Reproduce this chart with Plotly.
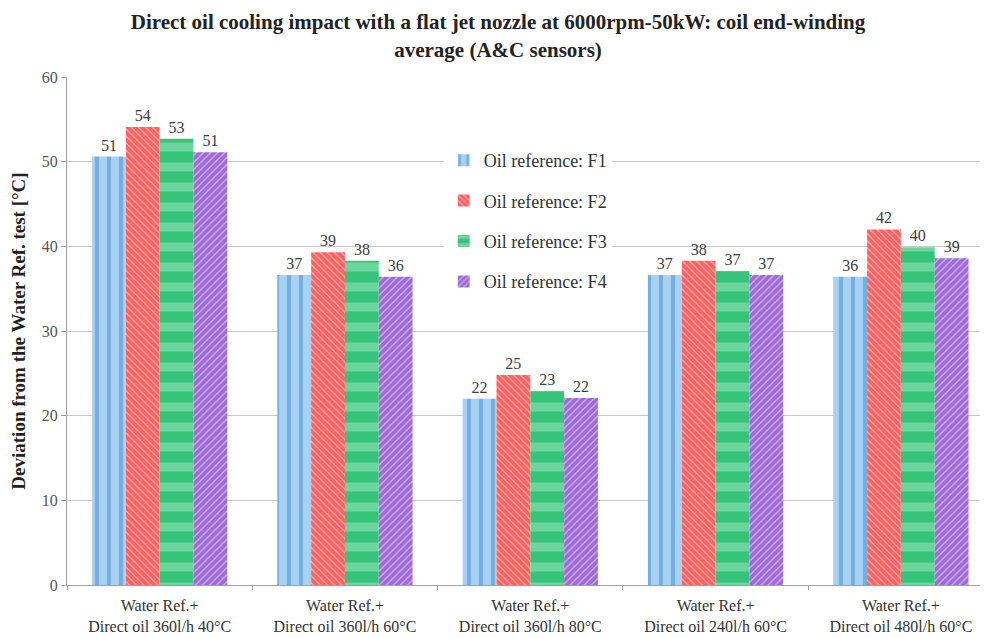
import plotly.graph_objects as go

categories = [
    "Water Ref.+<br>Direct oil 360l/h 40°C",
    "Water Ref.+<br>Direct oil 360l/h 60°C",
    "Water Ref.+<br>Direct oil 360l/h 80°C",
    "Water Ref.+<br>Direct oil 240l/h 60°C",
    "Water Ref.+<br>Direct oil 480l/h 60°C",
]
f1 = [50.6, 36.6, 22.0, 36.6, 36.4]
f2 = [54.1, 39.3, 24.8, 38.3, 42.0]
f3 = [52.7, 38.3, 22.9, 37.1, 39.9]
f4 = [51.1, 36.4, 22.1, 36.6, 38.6]

serif = "Liberation Serif, Times New Roman, serif"

series = [
    ("Oil reference: F1", f1, dict(shape="|", fgcolor="#3d8ed4", bgcolor="#a9d1f2", size=12, solidity=0.35)),
    ("Oil reference: F2", f2, dict(shape="\\", fgcolor="#ffffff", bgcolor="#ff6161", size=5, solidity=0.25)),
    ("Oil reference: F3", f3, dict(shape="-", fgcolor="#9fe8bd", bgcolor="#36c47a", size=20, solidity=0.45)),
    ("Oil reference: F4", f4, dict(shape="/", fgcolor="#ffffff", bgcolor="#a06ad6", size=5, solidity=0.25)),
]

fig = go.Figure()
for i, (name, vals, pat) in enumerate(series):
    fig.add_trace(go.Bar(
        x=categories, y=vals, name=name, legendgroup=str(i),
        marker=dict(color=pat["bgcolor"], line=dict(width=0), pattern=pat),
        texttemplate="%{y:.0f}", textposition="outside", cliponaxis=False,
        textfont=dict(family=serif, size=16, color="#404040"),
    ))

fig.update_layout(
    width=980, height=630,
    margin=dict(l=59, r=0, t=69, b=53),
    paper_bgcolor="white", plot_bgcolor="white",
    barmode="group", bargap=0.27, bargroupgap=0,
    title=dict(
        text="<b>Direct oil cooling impact with a flat jet nozzle at 6000rpm-50kW: coil end-winding<br>average (A&C sensors)</b>",
        x=0.5, xanchor="center", yref="container", y=0.966, yanchor="middle",
        font=dict(family=serif, size=21, color="#222222"),
    ),
    legend=dict(
        x=0.409, y=0.872, xanchor="left", yanchor="top",
        bgcolor="white", traceorder="grouped", tracegroupgap=14,
        font=dict(family=serif, size=18, color="#333333"),
        itemwidth=30,
    ),
    font=dict(family=serif),
)
fig.update_xaxes(
    range=[-0.5, 4.47], showline=True, linecolor="#a0a0a0", linewidth=1,
    ticks="outside", tickson="boundaries", ticklen=4, tickcolor="#a0a0a0",
    ticklabelstandoff=6,
    tickfont=dict(family=serif, size=16, color="#333333"),
)
fig.update_yaxes(
    range=[0, 60], dtick=10, showline=True, linecolor="#a0a0a0", linewidth=1,
    ticks="outside", ticklen=5, tickcolor="#a0a0a0",
    showgrid=True, gridcolor="#c8c8c8", zeroline=False,
    tickfont=dict(family=serif, size=16, color="#555555"),
    title=dict(text="<b>Deviation from the Water Ref. test [°C]</b>", standoff=12,
               font=dict(family=serif, size=19, color="#222222")),
)

fig.write_html("out.html")
